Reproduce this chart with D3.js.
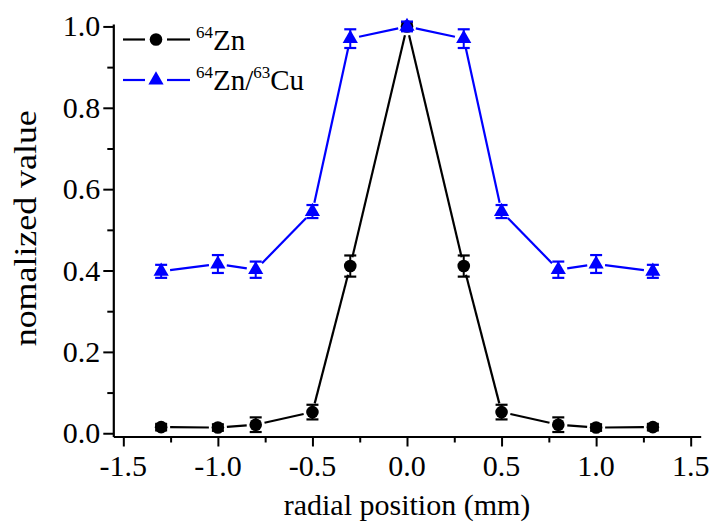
<!DOCTYPE html>
<html><head><meta charset="utf-8">
<script src="https://cdn.jsdelivr.net/npm/d3@7"></script>
</head>
<body style="margin:0">
<svg id="chart" width="709" height="527"></svg>
<script>
// ---- data ----
const positions = [-1.3, -1.0, -0.8, -0.5, -0.3, 0.0, 0.3, 0.5, 0.8, 1.0, 1.3];
const zn64 = [0.015, 0.014, 0.021, 0.052, 0.411, 1.0, 0.411, 0.052, 0.021, 0.014, 0.015];
const zn64Err = [0.008, 0.008, 0.018, 0.018, 0.026, 0.01, 0.026, 0.018, 0.018, 0.008, 0.008];
const ratio = [0.398, 0.416, 0.402, 0.545, 0.970, 1.0, 0.970, 0.545, 0.402, 0.416, 0.398];
const ratioErr = [0.016, 0.022, 0.02, 0.016, 0.023, 0.012, 0.023, 0.016, 0.02, 0.022, 0.016];
const xTicks = [-1.5, -1.0, -0.5, 0.0, 0.5, 1.0, 1.5];
const xMinor = [-1.25, -0.75, -0.25, 0.25, 0.75, 1.25];
const yTicks = [0.0, 0.2, 0.4, 0.6, 0.8, 1.0];
const yMinor = [0.1, 0.3, 0.5, 0.7, 0.9];

const FONT = "Liberation Serif";
const svg = d3.select("#chart");
const x = d3.scaleLinear().domain([-1.553, 1.553]).range([113.3, 700.7]);
const y = d3.scaleLinear().domain([-0.008, 1.006]).range([436.5, 24]);
const fmt = d => d3.format(".1f")(d).replace("\u2212", "-");

const ctx = document.createElement("canvas").getContext("2d");
function measure(s, size) {
  ctx.font = `${size}px "${FONT}"`;
  return ctx.measureText(s).width;
}
function label(parent, px, py, s, size, anchor, rot, len) {
  return parent.append("text")
    .attr("transform", `translate(${px},${py}) rotate(${rot || 0})`)
    .attr("x", 0).attr("y", 0)
    .attr("font-family", FONT).style("font-family", FONT)
    .attr("font-size", size).attr("fill", "#000")
    .attr("text-anchor", anchor)
    .attr("textLength", len || measure(s, size)).attr("lengthAdjust", "spacingAndGlyphs")
    .text(s);
}

// axes (lines from d3 axes)
const gx = svg.append("g").attr("transform", `translate(0,${y.range()[0]})`)
  .call(d3.axisBottom(x).tickValues(xTicks).tickFormat("").tickSize(10).tickSizeOuter(0));
const gxm = svg.append("g").attr("transform", `translate(0,${y.range()[0]})`)
  .call(d3.axisBottom(x).tickValues(xMinor).tickFormat("").tickSize(6).tickSizeOuter(0));
const gy = svg.append("g").attr("transform", `translate(${x.range()[0]},0)`)
  .call(d3.axisLeft(y).tickValues(yTicks).tickFormat("").tickSize(10).tickSizeOuter(0));
const gym = svg.append("g").attr("transform", `translate(${x.range()[0]},0)`)
  .call(d3.axisLeft(y).tickValues(yMinor).tickFormat("").tickSize(6).tickSizeOuter(0));
[gx, gxm, gy, gym].forEach(g => {
  g.selectAll("path.domain").attr("stroke", "#000").attr("stroke-width", 2.2);
  g.selectAll(".tick line").attr("stroke", "#000").attr("stroke-width", 2);
  g.selectAll(".tick text").remove();
});
gxm.select("path.domain").remove();
gym.select("path.domain").remove();

// tick labels
xTicks.forEach(v => label(svg, x(v), y.range()[0] + 39, fmt(v), 30, "middle"));
yTicks.forEach(v => label(svg, x.range()[0] - 13, y(v) + 10, fmt(v), 30, "end"));

// axis titles
label(svg, 407, 515, "radial position (mm)", 30, "middle");
label(svg, 36, (y.range()[0] + y.range()[1]) / 2 - 2, "nomalized value", 31, "middle", -90, 236);

const gapR = 9;
const CIRCLE = 125, TRI = 100;
function drawSeries(vals, errs, color, shape) {
  const g = svg.append("g");
  const pts = positions.map((p, i) => [x(p), y(vals[i])]);
  for (let i = 0; i < pts.length - 1; i++) {
    const [x1, y1] = pts[i], [x2, y2] = pts[i + 1];
    const dx = x2 - x1, dy = y2 - y1, L = Math.hypot(dx, dy);
    if (L <= 2 * gapR) continue;
    const ux = dx / L, uy = dy / L;
    g.append("line").attr("x1", x1 + ux * gapR).attr("y1", y1 + uy * gapR)
      .attr("x2", x2 - ux * gapR).attr("y2", y2 - uy * gapR)
      .attr("stroke", color).attr("stroke-width", 2.2);
  }
  positions.forEach((p, i) => {
    const cx = x(p), t = y(vals[i] + errs[i]), b = y(vals[i] - errs[i]);
    g.append("line").attr("x1", cx).attr("x2", cx).attr("y1", t).attr("y2", b)
      .attr("stroke", color).attr("stroke-width", 2);
    [t, b].forEach(yy => g.append("line").attr("x1", cx - 6).attr("x2", cx + 6)
      .attr("y1", yy).attr("y2", yy).attr("stroke", color).attr("stroke-width", 2.2));
  });
  const sym = d3.symbol().type(shape).size(shape === d3.symbolCircle ? CIRCLE : TRI);
  positions.forEach((p, i) => {
    g.append("path").attr("d", sym()).attr("transform", `translate(${x(p)},${y(vals[i])})`)
      .attr("fill", color);
  });
}
drawSeries(zn64, zn64Err, "#000000", d3.symbolCircle);
drawSeries(ratio, ratioErr, "#0000ff", d3.symbolTriangle);

// legend: parts are [text, isSuperscript]
const legend = [
  { color: "#000000", shape: d3.symbolCircle, parts: [["64", true], ["Zn", false]], ly: 39.5 },
  { color: "#0000ff", shape: d3.symbolTriangle, parts: [["64", true], ["Zn/", false], ["63", true], ["Cu", false]], ly: 80 }
];
legend.forEach(l => {
  const g = svg.append("g");
  g.append("line").attr("x1", 123).attr("x2", 145).attr("y1", l.ly).attr("y2", l.ly)
    .attr("stroke", l.color).attr("stroke-width", 2.2);
  g.append("line").attr("x1", 167).attr("x2", 190).attr("y1", l.ly).attr("y2", l.ly)
    .attr("stroke", l.color).attr("stroke-width", 2.2);
  g.append("path").attr("d", d3.symbol().type(l.shape).size(l.shape === d3.symbolCircle ? CIRCLE : TRI)())
    .attr("transform", `translate(156,${l.ly})`).attr("fill", l.color);
  let cx = 196;
  l.parts.forEach(([s, sup]) => {
    const size = sup ? 17 : 29;
    const base = l.ly + 10 - (sup ? 12 : 0);
    label(g, cx, base, s, size, "start");
    cx += measure(s, size);
  });
});
</script>
</body></html>
